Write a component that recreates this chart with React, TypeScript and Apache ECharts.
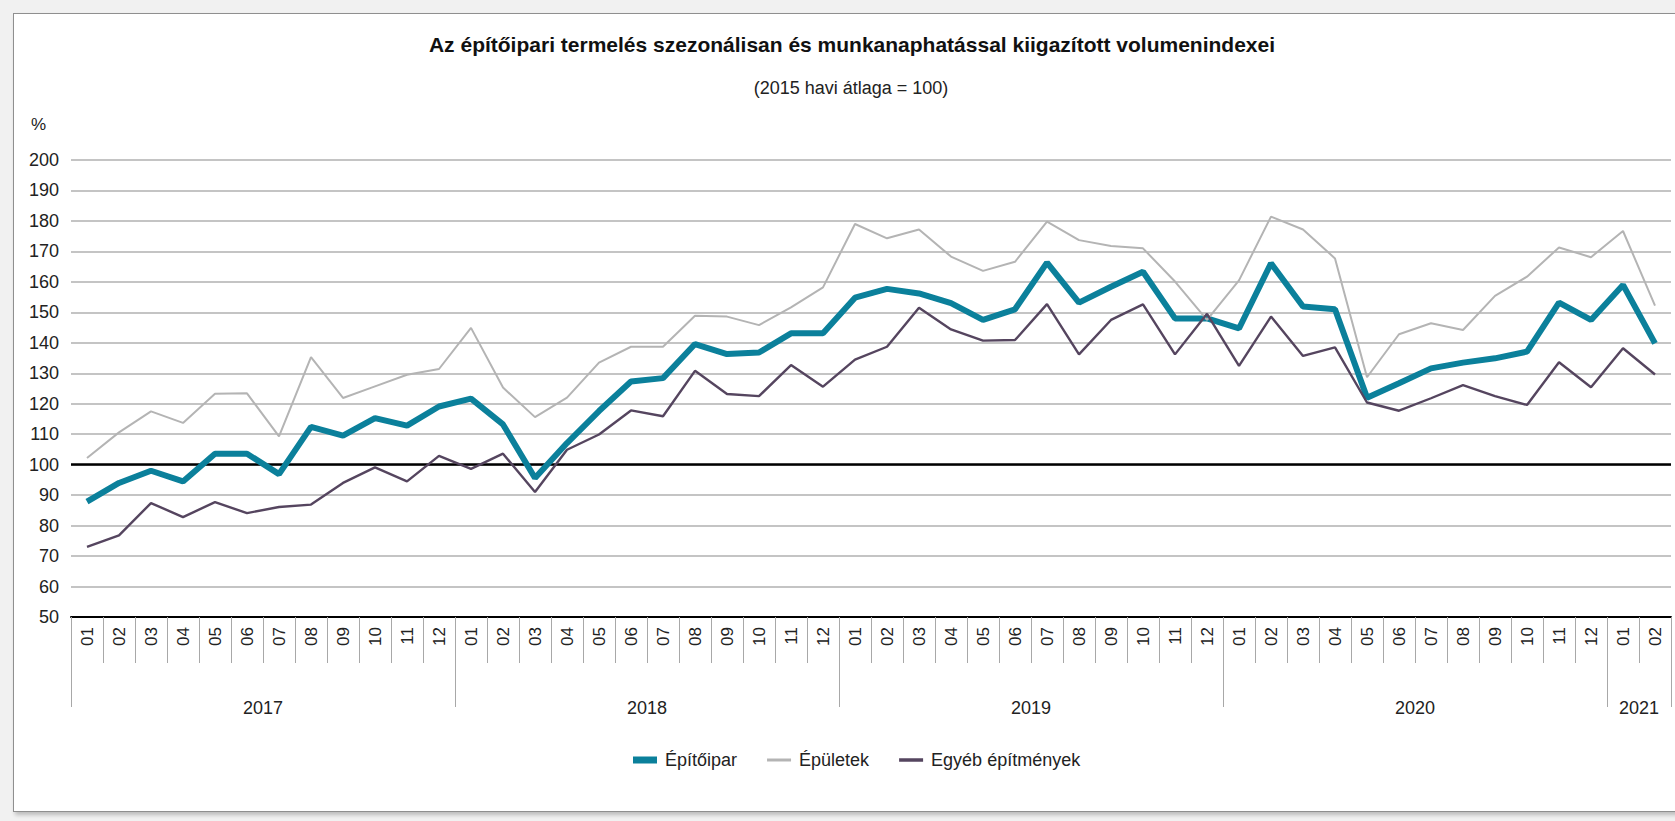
import React, { useEffect, useRef } from "react";
import * as echarts from "echarts";

// ---- data ----
const years = ["2017", "2018", "2019", "2020", "2021"];
const monthsPerYear = [12, 12, 12, 12, 2];
const monthLabels = ["01", "02", "03", "04", "05", "06", "07", "08", "09", "10", "11", "12"];

const seriesNames = ["Építőipar", "Épületek", "Egyéb építmények"];

// Építőipar
const epitoipar = [
  87.9, 94.0, 98.0, 94.5, 103.6, 103.6, 96.9, 112.4, 109.5, 115.3, 112.8, 119.1,
  121.7, 113.2, 95.6, 107.1, 117.6, 127.3, 128.4, 139.6, 136.3, 136.8, 143.1, 143.1,
  154.8, 157.7, 156.2, 153.0, 147.5, 151.0, 166.3, 153.2, 158.4, 163.3, 148.0, 148.0,
  144.7, 166.1, 151.9, 151.0, 122.0, 126.7, 131.6, 133.5, 134.9, 137.1, 153.2, 147.5,
  159.0, 139.8,
];

// Épületek
const epuletek = [
  102.2, 110.6, 117.5, 113.7, 123.3, 123.4, 109.3, 135.3, 121.9, 125.7, 129.5, 131.4,
  144.9, 125.3, 115.6, 122.0, 133.5, 138.7, 138.7, 148.9, 148.6, 145.8, 151.6, 158.2,
  179.0, 174.3, 177.2, 168.3, 163.6, 166.6, 179.8, 173.7, 171.8, 171.0, 160.1, 147.5,
  160.5, 181.4, 177.2, 167.7, 128.7, 142.8, 146.4, 144.2, 155.4, 161.7, 171.3, 168.1,
  176.7, 152.2,
];

// Egyéb építmények
const egyeb = [
  73.0, 76.8, 87.4, 82.8, 87.7, 84.1, 86.1, 86.9, 94.0, 99.1, 94.5, 102.9,
  98.6, 103.6, 91.0, 104.9, 109.9, 117.8, 115.9, 130.8, 123.2, 122.5, 132.7, 125.6,
  134.5, 138.7, 151.5, 144.4, 140.7, 140.9, 152.7, 136.2, 147.5, 152.6, 136.2, 149.5,
  132.4, 148.6, 135.7, 138.5, 120.4, 117.7, 121.8, 126.1, 122.5, 119.6, 133.6, 125.4,
  138.2, 129.6,
];

const yMin = 50;
const yMax = 200;
const yStep = 10;
const referenceValue = 100;

const title = "Az építőipari termelés szezonálisan és munkanaphatással kiigazított volumenindexei";
const subtitle = "(2015 havi átlaga = 100)";
const unitLabel = "%";

// ---- derived ----
const categories: string[] = [];
years.forEach((y, yi) => {
  for (let m = 0; m < monthsPerYear[yi]; m++) categories.push(y + "." + monthLabels[m]);
});

// year axis: slots on month boundaries (n + 1 positions)
const yearSlots: string[] = [];
for (let i = 0; i <= categories.length; i++) yearSlots.push("s" + i);
const yearTickIdx: number[] = [];
const yearLabelAt: Record<number, string> = {};
{
  let start = 0;
  years.forEach((y, yi) => {
    yearTickIdx.push(start);
    yearLabelAt[start + monthsPerYear[yi] / 2] = y;
    start += monthsPerYear[yi];
  });
  yearTickIdx.push(start);
}

const SANS = "'Liberation Sans', Arial, sans-serif";
const colors = ["#0b809b", "#b4b4b4", "#55455f"];
const widths = [6, 2, 2.4];

export default function App() {
  const ref = useRef<HTMLDivElement>(null);

  useEffect(() => {
    if (!ref.current) return;
    const chart = echarts.init(ref.current, null, { renderer: "svg" });
    const dataSets = [epitoipar, epuletek, egyeb];
    const tickColor = "#a8a8a8";

    chart.setOption({
      animation: false,
      backgroundColor: "transparent",
      textStyle: { fontFamily: SANS },
      grid: { left: 71, right: 4, top: 160, bottom: 204, containLabel: false },
      graphic: [
        {
          type: "text",
          x: 852,
          y: 44,
          style: {
            text: title,
            fontSize: 21,
            fontWeight: "bold",
            fontFamily: SANS,
            fill: "#111",
            align: "center",
            verticalAlign: "middle",
          },
        },
        {
          type: "text",
          x: 851,
          y: 88,
          style: {
            text: subtitle,
            fontSize: 18,
            fontFamily: SANS,
            fill: "#222",
            align: "center",
            verticalAlign: "middle",
          },
        },
        {
          type: "text",
          x: 31,
          y: 124,
          style: {
            text: unitLabel,
            fontSize: 17,
            fontFamily: SANS,
            fill: "#222",
            align: "left",
            verticalAlign: "middle",
          },
        },
      ],
      legend: {
        left: 628,
        top: 746,
        itemWidth: 24,
        itemHeight: 7,
        itemGap: 30,
        selectedMode: false,
        textStyle: { fontSize: 18, fontFamily: SANS, color: "#222", padding: [0, 0, 0, 3] },
        data: [
          { name: seriesNames[0], icon: "path://M0,0H24V7H0Z", itemStyle: { color: colors[0] } },
          { name: seriesNames[1], icon: "path://M0,0H24V3H0Z", itemStyle: { color: colors[1] } },
          { name: seriesNames[2], icon: "path://M0,0H24V3.5H0Z", itemStyle: { color: colors[2] } },
        ],
      },
      xAxis: [
        {
          type: "category",
          data: categories,
          boundaryGap: true,
          axisLine: { show: true, lineStyle: { color: "#000", width: 2 } },
          axisTick: { show: true, interval: 0, length: 46, lineStyle: { color: tickColor, width: 1 } },
          axisLabel: {
            interval: 0,
            rotate: 90,
            margin: 10,
            fontSize: 17,
            fontFamily: SANS,
            color: "#222",
            formatter: (v: string) => v.slice(5),
          },
          splitLine: { show: false },
          z: 4,
        },
        {
          type: "category",
          position: "bottom",
          data: yearSlots,
          boundaryGap: false,
          axisLine: { show: false },
          axisTick: {
            show: true,
            interval: (i: number) => yearTickIdx.indexOf(i) >= 0,
            length: 90,
            lineStyle: { color: tickColor, width: 1 },
          },
          axisLabel: {
            interval: (i: number) => yearLabelAt[i] !== undefined,
            formatter: (_v: string, i: number) => yearLabelAt[i] || "",
            margin: 82,
            fontSize: 18,
            fontFamily: SANS,
            color: "#222",
          },
          splitLine: { show: false },
        },
      ],
      yAxis: {
        type: "value",
        min: yMin,
        max: yMax,
        interval: yStep,
        axisLine: { show: false },
        axisTick: { show: false },
        axisLabel: { margin: 12, fontSize: 18, fontFamily: SANS, color: "#222" },
        splitLine: { show: true, lineStyle: { color: "#c4c4c4", width: 2 } },
      },
      series: seriesNames.map((name, i) => ({
        name,
        type: "line",
        xAxisIndex: 0,
        data: dataSets[i],
        symbol: "none",
        color: colors[i],
        itemStyle: { color: colors[i] },
        lineStyle: { color: colors[i], width: widths[i] },
        z: 2 + i,
        ...(i === 0
          ? {
              markLine: {
                silent: true,
                z: 1,
                symbol: ["none", "none"],
                label: { show: false },
                lineStyle: { color: "#000", width: 2.5, type: "solid" },
                data: [{ yAxis: referenceValue }],
              },
            }
          : {}),
      })),
    });

    return () => chart.dispose();
  }, []);

  return (
    <div
      style={{
        position: "absolute",
        left: 0,
        top: 0,
        width: 1675,
        height: 821,
        background: "#f1f1f1",
        overflow: "hidden",
      }}
    >
      <div
        style={{
          position: "absolute",
          left: 13,
          top: 13,
          width: 1700,
          height: 799,
          background: "#ffffff",
          border: "1.5px solid #8f8f8f",
          boxShadow: "2px 3px 4px rgba(0,0,0,0.22)",
          boxSizing: "border-box",
        }}
      />
      <div ref={ref} style={{ position: "absolute", left: 0, top: 0, width: 1675, height: 821 }} />
    </div>
  );
}
